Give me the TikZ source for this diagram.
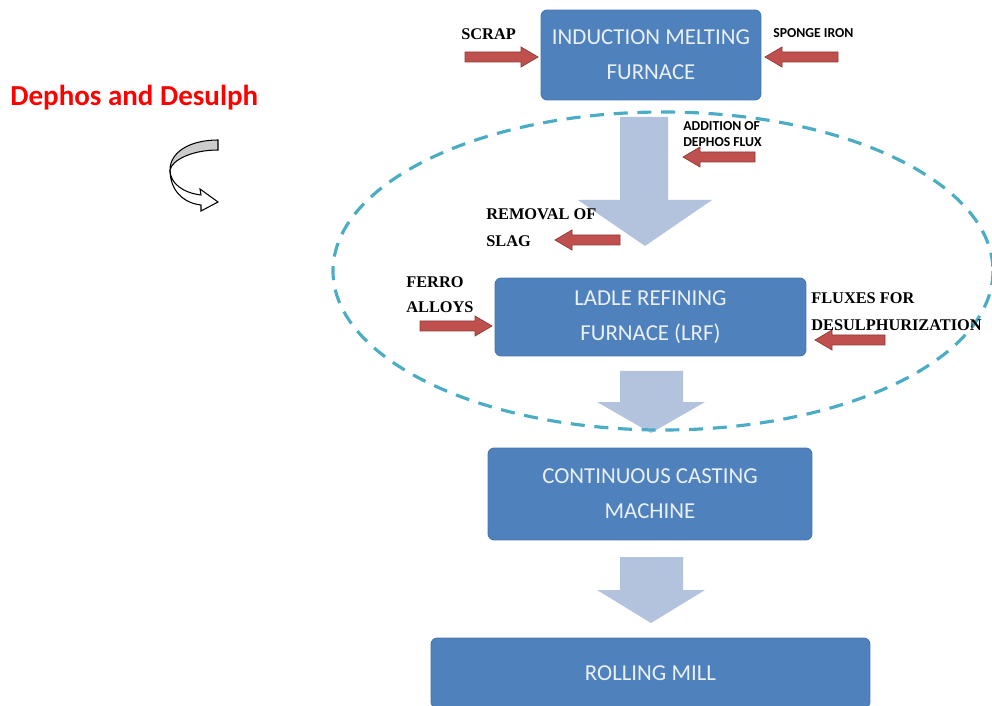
\documentclass[tikz,border=0pt]{standalone}
\usepackage{fontspec}
\setmainfont{Carlito}
\newfontfamily\labelfont{Liberation Serif}
\usetikzlibrary{calc}

\definecolor{boxblue}{HTML}{4F81BD}
\definecolor{boxedge}{HTML}{4674AC}
\definecolor{boxtext}{HTML}{EAF0F8}
\definecolor{flowblue}{HTML}{B3C2DD}
\definecolor{redfill}{HTML}{C0504D}
\definecolor{rededge}{HTML}{8E3A38}
\definecolor{loopdash}{HTML}{4BACC6}
\definecolor{titlered}{HTML}{FF0000}

\tikzset{
  stagebox/.style={draw=boxedge, line width=0.5pt, fill=boxblue, rounded corners=3.5pt,
    text=boxtext, align=center, font=\fontsize{13}{20}\selectfont, inner sep=0pt},
  flowarrow/.style={fill=flowblue, draw=none},
  redarrow/.style={fill=redfill, draw=rededge, line width=0.4pt},
  serlabel/.style={anchor=west, inner sep=0pt, font=\labelfont\bfseries\fontsize{9.3}{11}\selectfont},
  sanslabel/.style={anchor=west, inner sep=0pt, font=\bfseries\fontsize{7.8}{9.5}\selectfont},
  pics/feed/.style={code={
    \path[redarrow] (0,0) -- (-17,-10) -- (-17,-5) -- (-#1,-5) -- (-#1,5) -- (-17,5) -- (-17,10) -- cycle;
  }}
}

\begin{document}
\begin{tikzpicture}[x=0.02cm, y=-0.02cm]
\useasboundingbox (0,0) rectangle (992,706);
\clip (0,0) rectangle (992,706);

% flow arrows between the stages
\path[flowarrow] (620,117) -- (668,117) -- (668,200) -- (712,200) -- (645,246)
  -- (578,200) -- (620,200) -- cycle;
\path[flowarrow] (620,371) -- (683,371) -- (683,402) -- (705,402) -- (651,433)
  -- (597,402) -- (620,402) -- cycle;
\path[flowarrow] (620,557) -- (683,557) -- (683,590) -- (705,590) -- (651,623)
  -- (597,590) -- (620,590) -- cycle;

% dashed loop round the refining section
\draw[loopdash, line width=1.8pt, dash pattern=on 8pt off 5.5pt]
  (663,271) ellipse [x radius=330, y radius=159];

% process stages
\node[stagebox, minimum width=4.4cm, minimum height=1.8cm] (imf) at (651,55)
  {INDUCTION MELTING\\FURNACE};
\node[stagebox, minimum width=6.22cm, minimum height=1.56cm] (lrf) at (650.5,317)
  {LADLE REFINING\\FURNACE (LRF)};
\node[stagebox, minimum width=6.48cm, minimum height=1.84cm] (ccm) at (650,494)
  {CONTINUOUS CASTING\\MACHINE};
\node[stagebox, minimum width=8.78cm, minimum height=1.4cm] (mill) at (650.5,673)
  {ROLLING MILL};

% material feeds and removals
\coordinate (scraptip) at (538,57);
\coordinate (spongetip) at (765,57);
\coordinate (fluxtip) at (683,157);
\coordinate (slagtip) at (555,240);
\coordinate (ferrotip) at (492,326);
\coordinate (desulphtip) at (815,340);
\pic at (scraptip) {feed=73};
\pic[rotate=180] at (spongetip) {feed=73};
\pic[rotate=180] at (fluxtip) {feed=72};
\pic[rotate=180] at (slagtip) {feed=65};
\pic at (ferrotip) {feed=72};
\pic[rotate=180] at (desulphtip) {feed=70};

% labels
\node[serlabel] (scrap) at (461,34) {SCRAP};
\node[sanslabel] (sponge) at (773,33) {SPONGE IRON};
\node[sanslabel, align=left] (dephosflux) at (683,134) {ADDITION OF\\DEPHOS FLUX};
\node[serlabel] (removal) at (486,214) {REMOVAL OF};
\node[serlabel] (slag) at (486,241) {SLAG};
\node[serlabel] (ferro) at (406,282) {FERRO};
\node[serlabel] (alloys) at (406,307) {ALLOYS};
\node[serlabel] (fluxes) at (811,298) {FLUXES FOR};
\node[serlabel] (desulph) at (811,325) {DESULPHURIZATION};

% title and curved arrow symbol
\node[anchor=west, inner sep=0pt, text=titlered, font=\bfseries\fontsize{16.5}{19}\selectfont]
  (title) at (10,98) {Dephos and Desulph};
\filldraw[fill=gray!40, draw=black, line width=0.6pt]
  (218,140) .. controls (190,140) and (170,152) .. (170,170)
  .. controls (172,160) and (192,150) .. (218,150) -- cycle;
\filldraw[fill=white, draw=black, line width=0.6pt]
  (170,170) .. controls (170,184) and (184,193) .. (201,195) -- (200,189) -- (218,202)
  -- (201,211) -- (201,205) .. controls (183,203) and (170,190) .. (170,170) -- cycle;
\end{tikzpicture}
\end{document}
